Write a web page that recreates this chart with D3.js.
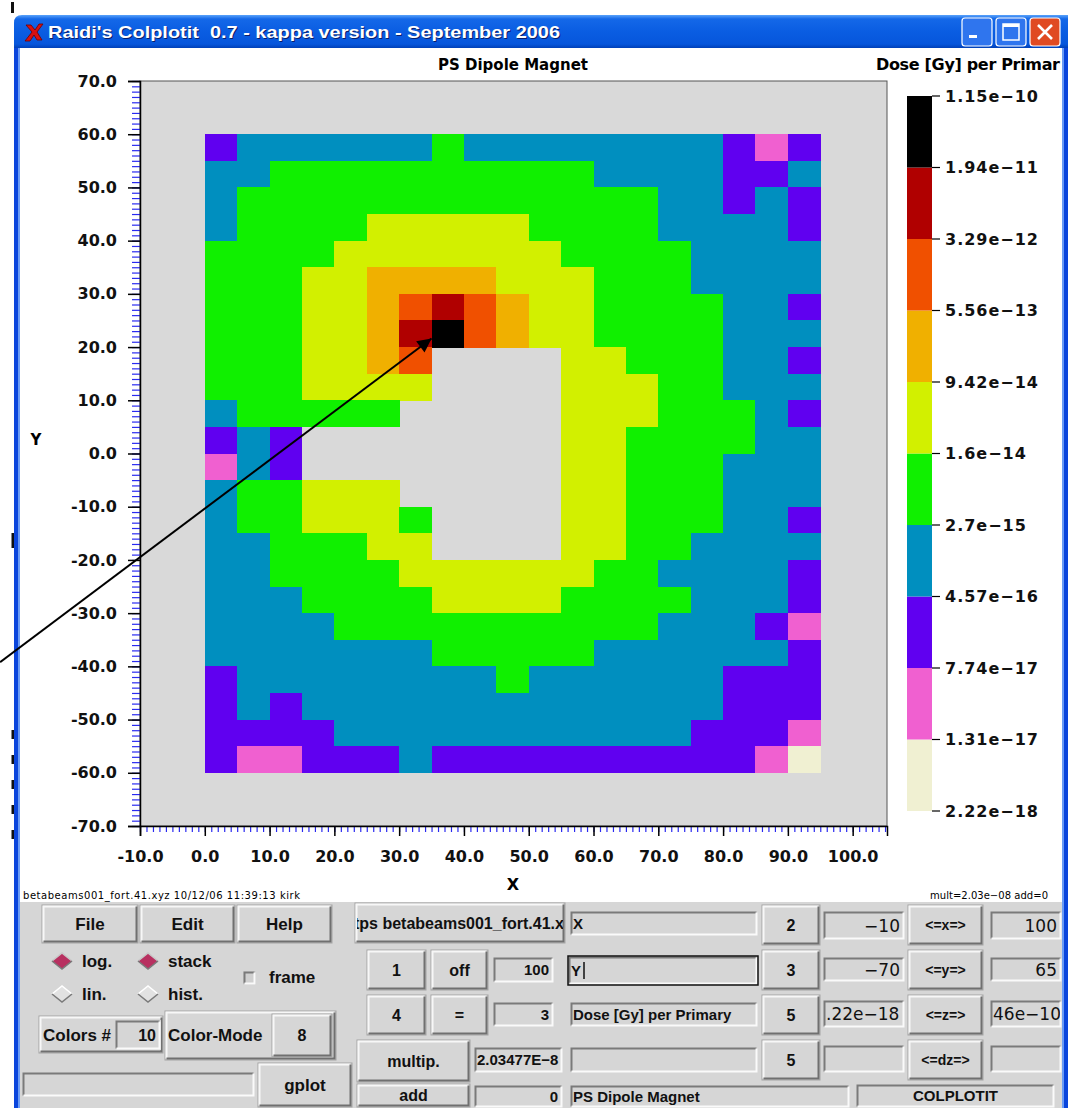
<!DOCTYPE html>
<meta charset="utf-8">
<script src="https://d3js.org/d3.v7.min.js"></script>
<style>
body { margin: 0; background: #ffffff; }
svg text { font-family: "DejaVu Sans", sans-serif; }
</style>
<div id="my_dataviz"></div>
<script>

// lower x edge of each 5 unit column, upper y edge of each 5 unit row
var xBins = [0, 5, 10, 15, 20, 25, 30, 35, 40, 45, 50, 55, 60, 65, 70, 75, 80, 85, 90];
var yBins = [60, 55, 50, 45, 40, 35, 30, 25, 20, 15, 10, 5, 0, -5, -10, -15, -20, -25, -30, -35, -40, -45, -50, -55];
var binSize = 5;

// dose level of each cell, 0 = lowest band, 9 = highest band, "." = no data
var levelRows = [
  "2333333433333333212",
  "3344444444443333223",
  "3444444444444433232",
  "3444455555444433332",
  "4444555555544443333",
  "4445566665554443333",
  "4445567876554444332",
  "4445568976554444333",
  "4445567....55444332",
  "4445555....55544333",
  "344444.....55544432",
  "232........55444433",
  "132........55444333",
  "344555.....55444333",
  "3445554....55444332",
  "3344455....55443333",
  "3344445555554433332",
  "3334444555544443332",
  "3333444444444433321",
  "3333333444443333332",
  "2333333334333333222",
  "2323333333333333222",
  "2222333333333332221",
  "2112223222222222210"
];

var levelColors = ["#f0f0d2", "#f060d0", "#6000f0", "#008fbf", "#10f000",
                   "#d2f000", "#f0b000", "#f05000", "#b00000", "#000000"];
var legendTicks = ["2.22e\u221218", "1.31e\u221217", "7.74e\u221217", "4.57e\u221216", "2.7e\u221215",
                   "1.6e\u221214", "9.42e\u221214", "5.56e\u221213", "3.29e\u221212", "1.94e\u221211", "1.15e\u221210"];
var xTicks = [-10, 0, 10, 20, 30, 40, 50, 60, 70, 80, 90, 100];
var yTicks = [-70, -60, -50, -40, -30, -20, -10, 0, 10, 20, 30, 40, 50, 60, 70];

// arrow from off the window to the hottest cell (data coords)
var arrowFrom = [-31.6, -39.2], arrowTo = [35, 21.6];

var W = 1068, H = 1108;
var svg = d3.select("#my_dataviz").append("svg")
  .attr("width", W).attr("height", H).style("display", "block");
var defs = svg.append("defs");

svg.append("rect").attr("width", W).attr("height", H).attr("fill", "#ffffff");

// marks of whatever is behind the window
svg.append("rect").attr("x", 11).attr("y", 2).attr("width", 3).attr("height", 11).attr("fill", "#111");
svg.append("line").attr("x1", 13).attr("x2", 13).attr("y1", 533).attr("y2", 548).attr("stroke", "#111").attr("stroke-width", 3);
svg.append("line").attr("x1", 13).attr("x2", 13).attr("y1", 730).attr("y2", 845)
  .attr("stroke", "#111").attr("stroke-width", 3).attr("stroke-dasharray", "9,16");

// ---------------- plot ----------------
var x = d3.scaleLinear().domain([-10, 105.3]).range([140, 887]);
var y = d3.scaleLinear().domain([-70, 70]).range([826, 81]);
var color = d3.scaleOrdinal().domain(d3.range(levelColors.length)).range(levelColors);

var plot = svg.append("g");
plot.append("rect")
  .attr("x", x(-10)).attr("y", y(70))
  .attr("width", x(105.3) - x(-10)).attr("height", y(-70) - y(70))
  .attr("fill", "#d9d9d9").attr("stroke", "#555").attr("stroke-width", 1);

var cells = [];
levelRows.forEach(function(row, r) {
  row.split("").forEach(function(ch, c) {
    if (ch !== ".") cells.push({x0: xBins[c], y1: yBins[r], level: +ch});
  });
});

plot.append("g").attr("shape-rendering", "crispEdges").selectAll("rect")
  .data(cells)
  .enter().append("rect")
    .attr("x", function(d) { return x(d.x0); })
    .attr("y", function(d) { return y(d.y1); })
    .attr("width", function(d) { return x(d.x0 + binSize) - x(d.x0) + 0.5; })
    .attr("height", function(d) { return y(d.y1 - binSize) - y(d.y1) + 0.5; })
    .attr("fill", function(d) { return color(d.level); });

// minor ticks (blue) then major ticks (black)
var yMinor = plot.append("g").attr("transform", "translate(" + x(-10) + ",0)")
  .call(d3.axisLeft(y).ticks(140).tickSize(8).tickFormat(""));
var yMajor = plot.append("g").attr("transform", "translate(" + x(-10) + ",0)")
  .call(d3.axisLeft(y).tickValues(yTicks).tickSize(12).tickPadding(11)
    .tickFormat(function(d) { return d.toFixed(1); }));
var xMinor = plot.append("g").attr("transform", "translate(0," + y(-70) + ")")
  .call(d3.axisBottom(x).ticks(115).tickSize(6).tickFormat(""));
var xMajor = plot.append("g").attr("transform", "translate(0," + y(-70) + ")")
  .call(d3.axisBottom(x).tickValues(xTicks).tickSize(10).tickPadding(15)
    .tickFormat(function(d) { return d.toFixed(1); }));

[yMinor, xMinor].forEach(function(a) {
  a.select(".domain").remove();
  a.selectAll(".tick line").attr("stroke", "#2a2af0").attr("stroke-width", 1.2);
});
[yMajor, xMajor].forEach(function(a) {
  a.select(".domain").attr("stroke", "#000").attr("stroke-width", 1.5);
  a.selectAll(".tick line").attr("stroke", "#000").attr("stroke-width", 1.5);
  a.selectAll("text").attr("fill", "#111").style("font-size", "16px").style("font-weight", "bold")
    .style("font-family", "DejaVu Sans, sans-serif");
});

svg.append("text").attr("x", 513).attr("y", 70).attr("text-anchor", "middle")
  .style("font-size", "15px").style("font-weight", "bold").text("PS Dipole Magnet");
svg.append("text").attr("x", 513).attr("y", 890).attr("text-anchor", "middle")
  .style("font-size", "16px").style("font-weight", "bold").text("X");
svg.append("text").attr("x", 36).attr("y", 445).attr("text-anchor", "middle")
  .style("font-size", "15px").style("font-weight", "bold").text("Y");
// the window cuts this title off at its right border
svg.append("text").attr("x", 876).attr("y", 70).attr("textLength", 184)
  .style("font-size", "16px").style("font-weight", "bold").text("Dose [Gy] per Primar");

// colour bar
var cb = d3.scaleLinear().domain([0, levelColors.length]).range([811, 96]);
var bar = svg.append("g");
bar.selectAll("rect").data(levelColors).enter().append("rect")
  .attr("x", 907).attr("width", 25)
  .attr("y", function(d, i) { return cb(i + 1); })
  .attr("height", function(d, i) { return cb(i) - cb(i + 1); })
  .attr("fill", function(d) { return d; });
bar.selectAll("line").data(legendTicks).enter().append("line")
  .attr("x1", 932).attr("x2", 940)
  .attr("y1", function(d, i) { return cb(i); }).attr("y2", function(d, i) { return cb(i); })
  .attr("stroke", "#000").attr("stroke-width", 1.2);
bar.selectAll("text").data(legendTicks).enter().append("text")
  .attr("x", 945).attr("y", function(d, i) { return cb(i); }).attr("dy", "0.36em")
  .style("font-size", "16px").style("font-weight", "bold").style("letter-spacing", "1px")
  .attr("fill", "#111")
  .text(function(d) { return d; });

// file stamp lines
svg.append("text").attr("x", 23).attr("y", 899).style("font-size", "10px")
  .attr("textLength", 277).text("betabeams001_fort.41.xyz 10/12/06 11:39:13 kirk");
svg.append("text").attr("x", 930).attr("y", 899).style("font-size", "10px")
  .attr("textLength", 118).text("mult=2.03e\u221208 add=0");

// ---------------- control panel ----------------
var panel = svg.append("g");
panel.append("rect").attr("x", 20).attr("y", 902).attr("width", 1042).attr("height", 206).attr("fill", "#d6d6d6");

function bevel(x0, y0, x1, y1, up, fill) {
  panel.append("rect").attr("x", x0).attr("y", y0).attr("width", x1 - x0).attr("height", y1 - y0)
    .attr("fill", fill || "#d6d6d6").attr("stroke", up ? "#a4a4a4" : "none");
  var hi = up ? "#f7f7f7" : "#7a7a7a", lo = up ? "#707070" : "#fafafa";
  panel.append("path").attr("fill", "none").attr("stroke", hi).attr("stroke-width", 2)
    .attr("d", "M" + (x0 + 1.5) + "," + (y1 - 1.5) + "V" + (y0 + 1.5) + "H" + (x1 - 1.5));
  panel.append("path").attr("fill", "none").attr("stroke", lo).attr("stroke-width", 2)
    .attr("d", "M" + (x1 - 1.5) + "," + (y0 + 1.5) + "V" + (y1 - 1.5) + "H" + (x0 + 1.5));
}
function txt(xp, yp, s, size, anchor, weight, fam) {
  return panel.append("text").attr("x", xp).attr("y", yp).attr("dy", "0.36em")
    .attr("text-anchor", anchor || "middle")
    .style("font-family", fam || "Liberation Sans, Arial, sans-serif")
    .style("font-weight", weight || "bold").style("font-size", (size || 15) + "px")
    .attr("fill", "#111").text(s);
}
function btn(x0, y0, x1, y1, s, size) {
  bevel(x0, y0, x1, y1, true);
  txt((x0 + x1) / 2, (y0 + y1) / 2, s, size);
}
function fld(x0, y0, x1, y1, s, align, size, weight, fam) {
  bevel(x0, y0, x1, y1, false);
  if (!s) return;
  var t;
  if (align === "right") t = txt(x1 - 5, (y0 + y1) / 2, s, size, "end", weight, fam);
  else if (align === "middle") t = txt((x0 + x1) / 2, (y0 + y1) / 2, s, size, "middle", weight, fam);
  else t = txt(x0 + 3, (y0 + y1) / 2, s, size, "start", weight, fam);
  var id = "clip" + Math.round(x0) + "_" + Math.round(y0);
  defs.append("clipPath").attr("id", id).append("rect")
    .attr("x", x0 + 2).attr("y", y0).attr("width", x1 - x0 - 4).attr("height", y1 - y0);
  t.attr("clip-path", "url(#" + id + ")");
}

// left block
btn(42, 905, 138, 943, "File", 17);
btn(140, 905, 235, 943, "Edit", 17);
btn(237, 905, 332, 943, "Help", 17);

function radio(cx, cy, on, s) {
  panel.append("polygon")
    .attr("points", [[cx - 10, cy], [cx, cy - 8], [cx + 10, cy], [cx, cy + 8]].join(" "))
    .attr("fill", on ? "#b83060" : "#e2e2e2");
  panel.append("path").attr("fill", "none").attr("stroke-width", 1.6)
    .attr("stroke", on ? "#c8c8c8" : "#ffffff")
    .attr("d", "M" + (cx - 10) + "," + cy + "L" + cx + "," + (cy - 8) + "L" + (cx + 10) + "," + cy);
  panel.append("path").attr("fill", "none").attr("stroke-width", 1.6).attr("stroke", "#7a7a7a")
    .attr("d", "M" + (cx - 10) + "," + cy + "L" + cx + "," + (cy + 8) + "L" + (cx + 10) + "," + cy);
  txt(cx + 20, cy, s, 17, "start");
}
radio(62, 961, true, "log.");
radio(148, 961, true, "stack");
radio(62, 994, false, "lin.");
radio(148, 994, false, "hist.");
bevel(243, 971, 256, 985, false, "#d0d0d0");
txt(269, 977, "frame", 17, "start");

bevel(39, 1016, 163, 1053, true);
txt(43, 1035, "Colors #", 17, "start");
fld(115, 1020, 161, 1050, "10", "right", 16, "bold");
bevel(165, 1011, 336, 1060, true);
txt(168, 1035, "Color-Mode", 17, "start");
btn(272, 1014, 332, 1057, "8", 16);
fld(22, 1072, 255, 1097, "");
btn(258, 1063, 352, 1107, "gplot", 17);

// middle block
bevel(355, 903, 565, 943, true);
defs.append("clipPath").attr("id", "clipBig").append("rect")
  .attr("x", 357).attr("y", 905).attr("width", 206).attr("height", 36);
txt(354, 923, "tps betabeams001_fort.41.x", 16, "start").attr("clip-path", "url(#clipBig)");
fld(570, 911, 758, 936, "X", "left", 15);

btn(367, 950, 426, 990, "1", 16);
btn(431, 950, 488, 990, "off", 16);
fld(493, 957, 554, 983, "100", "right", 15);
fld(568, 956, 758, 985, "Y", "left", 15);
panel.append("rect").attr("x", 568).attr("y", 956).attr("width", 190).attr("height", 29)
  .attr("fill", "none").attr("stroke", "#111").attr("stroke-width", 1.5);
panel.append("line").attr("x1", 584).attr("x2", 584).attr("y1", 962).attr("y2", 979)
  .attr("stroke", "#111").attr("stroke-width", 1.5);

btn(367, 995, 426, 1035, "4", 16);
btn(431, 995, 488, 1035, "=", 16);
fld(493, 1002, 554, 1027, "3", "right", 15);
fld(570, 1002, 758, 1027, "Dose [Gy] per Primary", "left", 15);

btn(357, 1040, 470, 1082, "multip.", 16);
fld(474, 1047, 563, 1073, "2.03477E\u22128", "left", 15);
fld(570, 1047, 758, 1073, "");

btn(357, 1084, 470, 1107, "add", 16);
fld(474, 1085, 563, 1108, "0", "right", 15);
fld(570, 1085, 850, 1108, "PS Dipole Magnet", "left", 15);

// right block
var reg = "DejaVu Sans, sans-serif";
btn(762, 905, 820, 945, "2", 16);
fld(823, 911, 905, 940, "\u221210", "right", 17, "normal", reg);
btn(908, 905, 983, 945, "<=x=>", 14);
fld(990, 911, 1062, 940, "100", "right", 17, "normal", reg);

btn(762, 950, 820, 990, "3", 16);
fld(823, 957, 905, 982, "\u221270", "right", 17, "normal", reg);
btn(908, 950, 983, 990, "<=y=>", 14);
fld(990, 957, 1062, 982, "65", "right", 17, "normal", reg);

btn(762, 995, 820, 1035, "5", 16);
fld(823, 1000, 905, 1028, ".22e\u221218", "left", 17, "normal", reg);
btn(908, 995, 983, 1035, "<=z=>", 14);
fld(990, 1000, 1062, 1028, "46e\u221210", "left", 17, "normal", reg);

btn(762, 1040, 820, 1080, "5", 16);
fld(823, 1045, 905, 1073, "");
btn(908, 1040, 983, 1080, "<=dz=>", 14);
fld(990, 1045, 1062, 1073, "");

fld(856, 1084, 1055, 1108, "COLPLOTIT", "middle", 15);

// ---------------- window frame ----------------
var tg = defs.append("linearGradient").attr("id", "titleGrad")
  .attr("x1", 0).attr("y1", 0).attr("x2", 0).attr("y2", 1);
[[0, "#5aa2fa"], [0.12, "#1468e8"], [0.5, "#0a5de2"], [0.88, "#0656dc"], [1, "#0040b8"]].forEach(function(s) {
  tg.append("stop").attr("offset", s[0]).attr("stop-color", s[1]);
});
svg.append("path").attr("d", "M14,48 V23 Q14,15 22,15 H1068 V48 Z").attr("fill", "url(#titleGrad)");
svg.append("rect").attr("x", 14).attr("y", 48).attr("width", 4).attr("height", H - 48).attr("fill", "#0a45dc");
svg.append("rect").attr("x", 18).attr("y", 48).attr("width", 2).attr("height", H - 48).attr("fill", "#6b9cf5");
svg.append("rect").attr("x", 1062).attr("y", 48).attr("width", 2).attr("height", H - 48).attr("fill", "#6b9cf5");
svg.append("rect").attr("x", 1064).attr("y", 48).attr("width", 4).attr("height", H - 48).attr("fill", "#0a45dc");

// app icon: red X
svg.append("path").attr("d", "M26,25 L31,25 L35,30 L39,24 L43,24 L37,32 L42,40 L37,40 L34,35 L30,41 L25,41 L32,32 Z")
  .attr("fill", "#d81010").attr("stroke", "#700000").attr("stroke-width", 0.8);

svg.append("text").attr("x", 48).attr("y", 38).style("white-space", "pre")
  .attr("textLength", 512).attr("lengthAdjust", "spacingAndGlyphs")
  .style("font-family", "Liberation Sans, Arial, sans-serif").style("font-weight", "bold")
  .style("font-size", "17px").attr("fill", "#0a1e6a").attr("transform", "translate(1,1)")
  .text("Raidi's Colplotit  0.7 - kappa version - September 2006");
svg.append("text").attr("x", 48).attr("y", 38).style("white-space", "pre")
  .attr("textLength", 512).attr("lengthAdjust", "spacingAndGlyphs")
  .style("font-family", "Liberation Sans, Arial, sans-serif").style("font-weight", "bold")
  .style("font-size", "17px").attr("fill", "#ffffff")
  .text("Raidi's Colplotit  0.7 - kappa version - September 2006");

function winBtn(x0, fill) {
  svg.append("rect").attr("x", x0).attr("y", 18).attr("width", 30).attr("height", 28).attr("rx", 3)
    .attr("fill", fill).attr("stroke", "#ffffff").attr("stroke-width", 1.2);
}
winBtn(962, "#2f75ee");
winBtn(996, "#2f75ee");
winBtn(1030, "#e04a22");
svg.append("rect").attr("x", 969).attr("y", 35).attr("width", 8).attr("height", 3).attr("fill", "#fff");
svg.append("rect").attr("x", 1003).attr("y", 24).attr("width", 16).attr("height", 16)
  .attr("fill", "none").attr("stroke", "#fff").attr("stroke-width", 1.5);
svg.append("rect").attr("x", 1003).attr("y", 24).attr("width", 16).attr("height", 3).attr("fill", "#fff");
svg.append("path").attr("d", "M1038,25 L1052,39 M1052,25 L1038,39")
  .attr("stroke", "#fff").attr("stroke-width", 2.6);

// ---------------- arrow ----------------
defs.append("marker").attr("id", "head").attr("viewBox", "0 0 10 10")
  .attr("refX", 10).attr("refY", 5).attr("markerWidth", 9).attr("markerHeight", 7)
  .attr("markerUnits", "strokeWidth").attr("orient", "auto")
  .append("path").attr("d", "M0,0 L10,5 L0,10 Z").attr("fill", "#000");
svg.append("line")
  .attr("x1", x(arrowFrom[0])).attr("y1", y(arrowFrom[1]))
  .attr("x2", x(arrowTo[0])).attr("y2", y(arrowTo[1]))
  .attr("stroke", "#000").attr("stroke-width", 2).attr("marker-end", "url(#head)");

</script>
